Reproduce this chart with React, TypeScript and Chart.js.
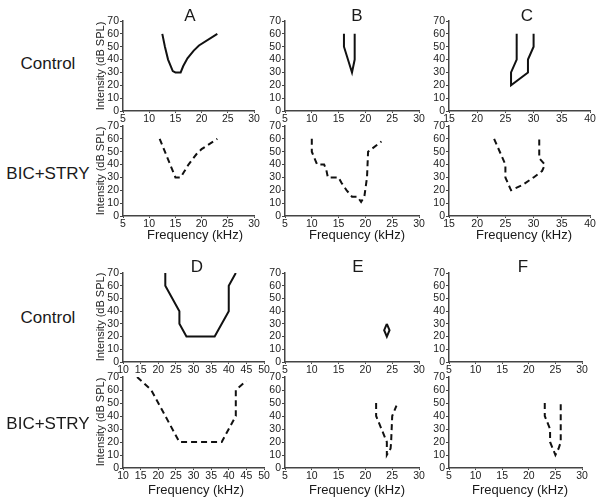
import React, { useEffect, useRef } from "react";
import { Chart, registerables } from "chart.js";

Chart.register(...registerables);

const FONT = "'Liberation Sans', Arial, Helvetica, sans-serif";

// ---- axis ranges / ticks ----
const yRange = [0, 70];
const yStep = 10;
const xStep = 5;
const xRangeA = [5, 30];
const xRangeB = [5, 30];
const xRangeC = [15, 40];
const xRangeD = [10, 50];
const xRangeE = [5, 30];
const xRangeF = [5, 30];

// ---- labels ----
const panelLetters = ["A", "B", "C", "D", "E", "F"];
const rowLabels = ["Control", "BIC+STRY"];
const yTitle = "Intensity (dB SPL)";
const xTitle = "Frequency (kHz)";

// ---- data: frequency (kHz) / intensity (dB SPL) ----
const aCtrlFreq = [12.5, 13, 13.6, 14.5, 15, 16, 16.5, 17.3, 18.5, 19.5, 23];
const aCtrlDb = [60, 50, 40, 31, 30, 30, 35, 41, 47, 51, 60];
const aBicFreq = [12, 13, 14, 15, 16, 16.6, 17.5, 19, 20, 23];
const aBicDb = [60, 50, 40, 30, 30, 34, 40, 48, 52, 60];

const bCtrlFreq = [16, 16, 17.5, 18, 18];
const bCtrlDb = [60, 50, 30, 40, 60];
const bBicFreq = [10, 10, 11, 12.3, 12.7, 13, 15, 15.5, 16.5, 17.5, 18.5, 19.2, 19.8, 20.3, 20.5, 23];
const bBicDb = [60, 50, 40, 40, 36, 30, 30, 26, 20, 15, 15, 11, 15, 30, 50, 58];

const cCtrlFreq = [27, 27, 26, 26, 29, 29, 30, 30];
const cCtrlDb = [60, 40, 30, 20, 30, 40, 50, 60];
const cBicFreq = [23, 24.5, 25, 25, 26, 28, 30, 31.5, 32, 31, 31];
const cBicDb = [60, 45, 40, 30, 20, 24, 30, 35, 40, 45, 60];

const dCtrlFreq = [22, 22, 26, 26, 28, 36, 40, 40, 42];
const dCtrlDb = [70, 60, 40, 30, 20, 20, 40, 60, 70];
const dBicFreq = [14, 18, 26, 38, 40, 42, 42, 45];
const dBicDb = [70, 60, 20, 20, 30, 40, 60, 67];

const eCtrlFreq = [24, 24.5, 24, 23.5, 24];
const eCtrlDb = [30, 25, 20, 25, 30];
const eBicFreq = [22, 22, 23, 24, 24, 24.7, 24.8, 25, 25.8];
const eBicDb = [50, 40, 30, 20, 10, 15, 20, 40, 48];

const fCtrlFreq: number[] = [];
const fCtrlDb: number[] = [];
const fBicFreq = [23, 23, 24, 24, 25, 25.6, 26, 26];
const fBicDb = [50, 40, 30, 20, 10, 15, 20, 50];

// ---- layout (chart-area pixel boxes) ----
const WY = 24; // y scale box width
const HX = 14; // x scale box height
const PAD_T = 8;
const PAD_R = 10;

type Series = { f: number[]; db: number[]; dashed: boolean };
type PanelCfg = {
  left: number;
  right: number;
  top: number;
  bottom: number;
  xr: number[];
  series: Series[];
};

const topGroupCols = [
  [123, 254],
  [285, 419],
  [449, 590],
];
const botGroupCols = [
  [123, 264],
  [285, 419],
  [449, 582],
];
const topGroupRows = [
  [21, 111],
  [126, 216],
];
const botGroupRows = [
  [273, 362],
  [377, 468],
];

function mk(col: number[], row: number[], xr: number[], f: number[], db: number[], dashed: boolean): PanelCfg {
  return {
    left: col[0],
    right: col[1],
    top: row[0],
    bottom: row[1],
    xr,
    series: [{ f, db, dashed }],
  };
}

const panels: PanelCfg[] = [
  mk(topGroupCols[0], topGroupRows[0], xRangeA, aCtrlFreq, aCtrlDb, false),
  mk(topGroupCols[0], topGroupRows[1], xRangeA, aBicFreq, aBicDb, true),
  mk(topGroupCols[1], topGroupRows[0], xRangeB, bCtrlFreq, bCtrlDb, false),
  mk(topGroupCols[1], topGroupRows[1], xRangeB, bBicFreq, bBicDb, true),
  mk(topGroupCols[2], topGroupRows[0], xRangeC, cCtrlFreq, cCtrlDb, false),
  mk(topGroupCols[2], topGroupRows[1], xRangeC, cBicFreq, cBicDb, true),
  mk(botGroupCols[0], botGroupRows[0], xRangeD, dCtrlFreq, dCtrlDb, false),
  mk(botGroupCols[0], botGroupRows[1], xRangeD, dBicFreq, dBicDb, true),
  mk(botGroupCols[1], botGroupRows[0], xRangeE, eCtrlFreq, eCtrlDb, false),
  mk(botGroupCols[1], botGroupRows[1], xRangeE, eBicFreq, eBicDb, true),
  mk(botGroupCols[2], botGroupRows[0], xRangeF, fCtrlFreq, fCtrlDb, false),
  mk(botGroupCols[2], botGroupRows[1], xRangeF, fBicFreq, fBicDb, true),
];

const AXIS_COLOR = "#444";
const TICK_COLOR = "#222";

function Panel({ cfg }: { cfg: PanelCfg }) {
  const ref = useRef<HTMLCanvasElement | null>(null);
  const width = WY + (cfg.right - cfg.left) + PAD_R;
  const height = PAD_T + (cfg.bottom - cfg.top) + HX;
  useEffect(() => {
    if (!ref.current) return;
    const chart = new Chart(ref.current, {
      type: "line",
      data: {
        datasets: cfg.series.map((s) => ({
          data: s.f.map((x, i) => ({ x, y: s.db[i] })),
          borderColor: "#111",
          borderWidth: 2,
          borderDash: s.dashed ? [6, 4] : [],
          pointRadius: 0,
          fill: false,
          tension: 0,
        })),
      },
      options: {
        animation: false,
        responsive: false,
        devicePixelRatio: 1,
        layout: { padding: { top: PAD_T, right: PAD_R, left: 0, bottom: 0 } },
        plugins: { legend: { display: false }, tooltip: { enabled: false } },
        scales: {
          x: {
            type: "linear",
            min: cfg.xr[0],
            max: cfg.xr[1],
            ticks: {
              stepSize: xStep,
              autoSkip: false,
              maxRotation: 0,
              padding: 0,
              color: TICK_COLOR,
              font: { family: FONT, size: 10.5 },
            },
            grid: { drawOnChartArea: false, drawTicks: true, tickLength: 2, color: AXIS_COLOR },
            border: { display: true, color: AXIS_COLOR, width: 1.5 },
            afterFit: (s: any) => {
              s.height = HX;
            },
          },
          y: {
            type: "linear",
            min: yRange[0],
            max: yRange[1],
            ticks: {
              stepSize: yStep,
              autoSkip: false,
              padding: 1,
              color: TICK_COLOR,
              font: { family: FONT, size: 10.5 },
            },
            grid: { drawOnChartArea: false, drawTicks: true, tickLength: 3, color: AXIS_COLOR },
            border: { display: true, color: AXIS_COLOR, width: 1.5 },
            afterFit: (s: any) => {
              s.width = WY;
            },
          },
        },
      } as any,
    });
    return () => chart.destroy();
  }, [cfg]);
  return (
    <canvas
      ref={ref}
      width={width}
      height={height}
      style={{
        position: "absolute",
        left: cfg.left - WY,
        top: cfg.top - PAD_T,
        width,
        height,
      }}
    />
  );
}

function Text({
  x,
  y,
  size,
  children,
  rotate,
}: {
  x: number;
  y: number;
  size: number;
  children: React.ReactNode;
  rotate?: boolean;
}) {
  return (
    <div
      style={{
        position: "absolute",
        left: x,
        top: y,
        transform: `translate(-50%, -50%)${rotate ? " rotate(-90deg)" : ""}`,
        fontFamily: FONT,
        fontSize: size,
        color: "#1a1a1a",
        whiteSpace: "nowrap",
        lineHeight: 1,
      }}
    >
      {children}
    </div>
  );
}

export default function App() {
  const letterPos = [
    [190, 15],
    [357, 15],
    [527, 15],
    [197, 266],
    [358, 266],
    [523, 266],
  ];
  const rowLabelPos = [
    [48, 63],
    [48, 173],
    [48, 317],
    [48, 423],
  ];
  const yTitlePos = [
    [100, 66],
    [100, 171],
    [100, 317],
    [100, 422],
  ];
  const xTitlePos = [
    [195, 234],
    [357, 234],
    [524, 234],
    [196, 489],
    [357, 489],
    [520, 489],
  ];
  return (
    <div
      style={{
        position: "absolute",
        left: 0,
        top: 0,
        width: 602,
        height: 501,
        background: "#fff",
        overflow: "hidden",
      }}
    >
      {panels.map((p, i) => (
        <Panel key={i} cfg={p} />
      ))}
      {panelLetters.map((l, i) => (
        <Text key={"l" + i} x={letterPos[i][0]} y={letterPos[i][1]} size={17}>
          {l}
        </Text>
      ))}
      {rowLabelPos.map((p, i) => (
        <Text key={"r" + i} x={p[0]} y={p[1]} size={17}>
          {rowLabels[i % 2]}
        </Text>
      ))}
      {yTitlePos.map((p, i) => (
        <Text key={"y" + i} x={p[0]} y={p[1]} size={11} rotate>
          {yTitle}
        </Text>
      ))}
      {xTitlePos.map((p, i) => (
        <Text key={"x" + i} x={p[0]} y={p[1]} size={13}>
          {xTitle}
        </Text>
      ))}
    </div>
  );
}
